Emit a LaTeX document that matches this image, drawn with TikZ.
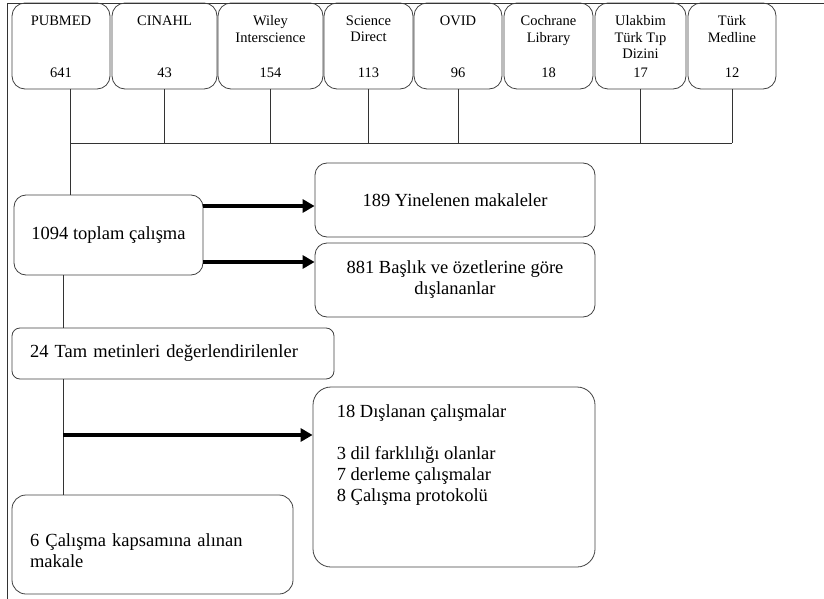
\documentclass[tikz,border=0pt]{standalone}
\usepackage{fontspec}
\setmainfont{Liberation Serif}
\usetikzlibrary{arrows.meta,calc,positioning}

\tikzset{
  dbbox/.style={draw=black!75, line width=0.8pt, rounded corners=13pt,
    minimum height=86pt, inner sep=0pt},
  dbname/.style={inner sep=0pt, align=center, font=\fontsize{14.5}{16.5}\selectfont},
  dbcount/.style={inner sep=0pt, font=\fontsize{14.5}{16.5}\selectfont},
  flowbox/.style={draw=black!75, line width=0.8pt, rounded corners=12pt,
    align=center, font=\fontsize{18.5}{21}\selectfont},
  flowtext/.style={inner sep=0pt, align=left, font=\fontsize{18.5}{21}\selectfont},
  link/.style={draw=black!80, line width=0.8pt},
  fatarrow/.style={line width=4.5pt, -{Triangle[length=12pt,width=13pt]}},
}

\begin{document}
\begin{tikzpicture}[x=1pt,y=-1pt]
\useasboundingbox (0,0) rectangle (824,599);
\draw[link] (7,599) -- (7,3) -- (824,3);

% databases
\foreach \i/\x/\w/\name/\n in {1/61/98/PUBMED/641, 2/164.5/105/CINAHL/43,
    3/270.5/105/{Wiley\\Interscience}/154, 4/368.5/89/{Science\\Direct}/113,
    5/458/88/OVID/96, 6/548.5/89/{Cochrane\\Library}/18,
    7/640.5/91/{Ulakbim\\Türk Tıp\\Dizini}/17, 8/732/88/{Türk\\Medline}/12}
{
  \node[dbbox, minimum width=\w pt] (db\i) at (\x,46) {};
  \node[dbname, below=13pt of db\i.north] (db\i-name) {\name};
  \node[dbcount] (db\i-n) at (\x,73) {\n};
}

% flow boxes
\node[flowbox, minimum width=189pt, minimum height=80pt] (tot) at (108.5,235)
  {1094 toplam çalışma};
\node[flowbox, minimum width=280pt, minimum height=74pt] (dup) at (455,200)
  {189 Yinelenen makaleler};
\node[flowbox, minimum width=280pt, minimum height=74pt] (abs) at (455,280)
  {881 Başlık ve özetlerine göre\\dışlananlar};
\node[flowbox, rounded corners=8pt, minimum height=51pt, inner xsep=18pt,
  text width=286pt, align=left] (full) at (173,353.5)
  {24 Tam metinleri değerlendirilenler};
\node[flowbox, rounded corners=18pt, minimum width=282pt, minimum height=180pt]
  (excl) at (454,477) {};
\node[flowtext, anchor=north west] (excl-text) at ([xshift=24pt,yshift=-18pt]excl.north west)
  {18 Dışlanan çalışmalar\\[21pt]3 dil farklılığı olanlar\\7 derleme çalışmalar\\8 Çalışma protokolü};
\node[flowbox, rounded corners=14pt, minimum height=99pt, inner xsep=18pt,
  text width=245pt, align=left] (inc) at (152.5,544.5)
  {\rule{0pt}{26pt}6 Çalışma kapsamına alınan\\makale};

% bus
\coordinate (bus) at (0,143);
\coordinate (pubdrop) at ([xshift=9pt]db1.south);
\draw[link] (pubdrop |- bus) -- (db8.south |- bus);
\foreach \i in {2,3,4,5,7,8}
  \draw[link] (db\i.south) -- (db\i.south |- bus);
\draw[link] (pubdrop) -- (pubdrop |- tot.north);

% arrows
\coordinate (out1) at ([yshift=29pt]tot.east);
\coordinate (out2) at ([yshift=-27pt]tot.east);
\draw[fatarrow] (out1) -- (out1 -| dup.west);
\draw[fatarrow] (out2) -- (out2 -| abs.west);

\coordinate (spine) at (63,0);
\draw[link] (tot.south -| spine) -- (full.north -| spine);
\draw[link] (full.south -| spine) -- (inc.north -| spine);
\coordinate (split) at (63,435);
\draw[fatarrow] (split) -- (split -| excl.west);
\end{tikzpicture}
\end{document}
